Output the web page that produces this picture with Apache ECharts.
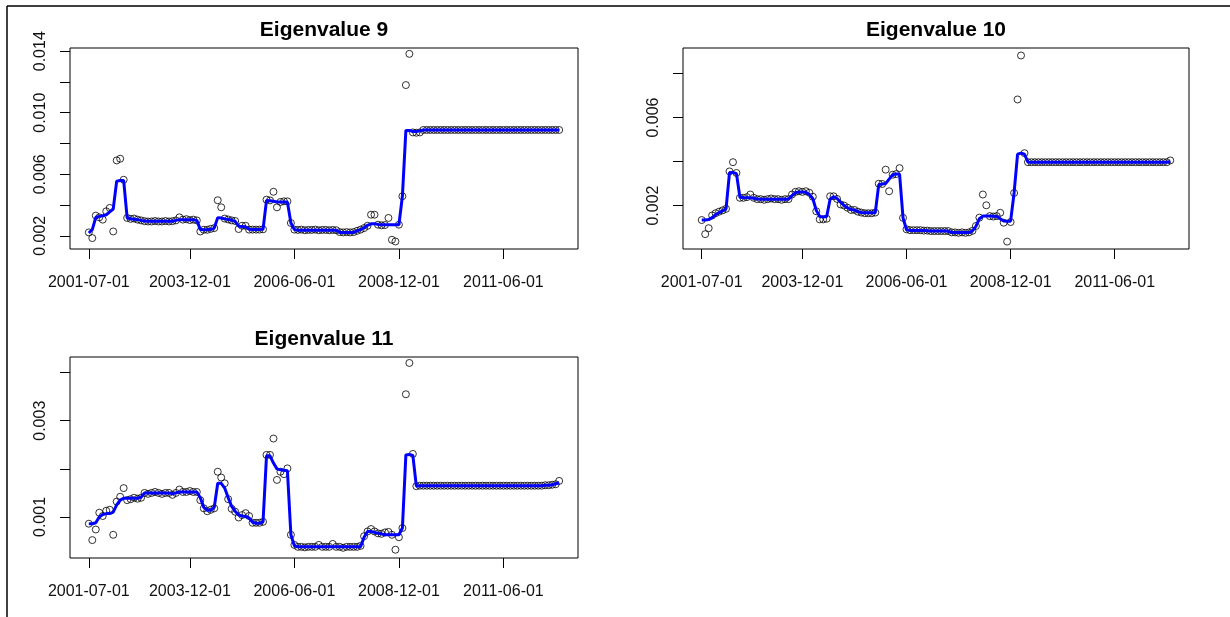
<!DOCTYPE html>
<html>
<head>
<meta charset="utf-8">
<script src="https://cdn.jsdelivr.net/npm/echarts@6/dist/echarts.min.js"></script>
<style>
  html, body { margin: 0; padding: 0; background: #fff; }
  #chart { width: 1230px; height: 617px; }
</style>
</head>
<body>
<div id="chart"></div>
<script>
// Monthly series, first observation 2001-07-01
const startYear = 2001;
const startMonth = 7;
const tickLabels = ["2001-07-01", "2003-12-01", "2006-06-01", "2008-12-01", "2011-06-01"];
const titles = ["Eigenvalue 9", "Eigenvalue 10", "Eigenvalue 11"];

// Eigenvalue 9: observed values and fitted curve
const ev9Obs = [
  0.00222,0.00185,0.00331,0.00320,0.00305,0.00359,0.00381,0.00228,0.00690,0.00701,
  0.00564,0.00316,0.00310,0.00312,0.00305,0.00300,0.00295,0.00293,0.00293,0.00296,
  0.00293,0.00293,0.00296,0.00293,0.00295,0.00300,0.00320,0.00305,0.00308,0.00302,
  0.00305,0.00300,0.00228,0.00239,0.00239,0.00245,0.00250,0.00431,0.00385,0.00312,
  0.00306,0.00300,0.00296,0.00244,0.00265,0.00265,0.00240,0.00240,0.00240,0.00240,
  0.00242,0.00435,0.00430,0.00486,0.00385,0.00420,0.00424,0.00424,0.00283,0.00240,
  0.00238,0.00240,0.00236,0.00238,0.00238,0.00240,0.00236,0.00238,0.00238,0.00236,
  0.00238,0.00236,0.00224,0.00222,0.00224,0.00222,0.00224,0.00232,0.00240,0.00250,
  0.00265,0.00337,0.00337,0.00272,0.00268,0.00270,0.00316,0.00174,0.00163,0.00272,
  0.00457,0.01180,0.01383,0.00872,0.00870,0.00872,0.00888,0.00888,0.00888,0.00888,
  0.00888,0.00888,0.00888,0.00888,0.00888,0.00888,0.00888,0.00888,0.00888,0.00888,
  0.00888,0.00888,0.00888,0.00888,0.00888,0.00888,0.00888,0.00888,0.00888,0.00888,
  0.00888,0.00888,0.00888,0.00888,0.00888,0.00888,0.00888,0.00888,0.00888,0.00888,
  0.00888,0.00888,0.00888,0.00888,0.00888,0.00888
];
const ev9Fit = [
  0.00218,0.00240,0.00320,0.00326,0.00330,0.00337,0.00355,0.00374,0.00555,0.00560,
  0.00560,0.00316,0.00311,0.00308,0.00305,0.00300,0.00296,0.00294,0.00294,0.00294,
  0.00294,0.00294,0.00294,0.00294,0.00295,0.00300,0.00305,0.00305,0.00305,0.00305,
  0.00305,0.00300,0.00240,0.00239,0.00239,0.00242,0.00250,0.00318,0.00316,0.00310,
  0.00306,0.00302,0.00294,0.00262,0.00260,0.00258,0.00242,0.00240,0.00240,0.00240,
  0.00242,0.00430,0.00428,0.00424,0.00420,0.00420,0.00420,0.00420,0.00283,0.00240,
  0.00236,0.00236,0.00236,0.00236,0.00236,0.00236,0.00236,0.00236,0.00236,0.00236,
  0.00236,0.00236,0.00222,0.00222,0.00222,0.00222,0.00222,0.00232,0.00240,0.00252,
  0.00268,0.00278,0.00278,0.00274,0.00272,0.00272,0.00272,0.00272,0.00272,0.00272,
  0.00457,0.00885,0.00885,0.00878,0.00878,0.00882,0.00888,0.00888,0.00888,0.00888,
  0.00888,0.00888,0.00888,0.00888,0.00888,0.00888,0.00888,0.00888,0.00888,0.00888,
  0.00888,0.00888,0.00888,0.00888,0.00888,0.00888,0.00888,0.00888,0.00888,0.00888,
  0.00888,0.00888,0.00888,0.00888,0.00888,0.00888,0.00888,0.00888,0.00888,0.00888,
  0.00888,0.00888,0.00888,0.00888,0.00888,0.00888
];

// Eigenvalue 10
const ev10Obs = [
  0.00134,0.00070,0.00097,0.00155,0.00165,0.00172,0.00178,0.00185,0.00355,0.00397,
  0.00348,0.00235,0.00235,0.00238,0.00250,0.00235,0.00229,0.00229,0.00226,0.00229,
  0.00232,0.00229,0.00229,0.00226,0.00229,0.00229,0.00250,0.00262,0.00265,0.00262,
  0.00265,0.00258,0.00240,0.00174,0.00137,0.00137,0.00140,0.00242,0.00242,0.00230,
  0.00205,0.00200,0.00190,0.00180,0.00180,0.00172,0.00168,0.00165,0.00165,0.00165,
  0.00168,0.00299,0.00298,0.00363,0.00265,0.00340,0.00343,0.00370,0.00144,0.00092,
  0.00088,0.00088,0.00088,0.00088,0.00086,0.00086,0.00084,0.00084,0.00084,0.00084,
  0.00084,0.00084,0.00078,0.00078,0.00076,0.00078,0.00076,0.00078,0.00085,0.00107,
  0.00145,0.00250,0.00201,0.00152,0.00150,0.00152,0.00167,0.00122,0.00036,0.00125,
  0.00257,0.00682,0.00882,0.00438,0.00397,0.00397,0.00397,0.00397,0.00397,0.00397,
  0.00397,0.00397,0.00397,0.00397,0.00397,0.00397,0.00397,0.00397,0.00397,0.00397,
  0.00397,0.00397,0.00397,0.00397,0.00397,0.00397,0.00397,0.00397,0.00397,0.00397,
  0.00397,0.00397,0.00397,0.00397,0.00397,0.00397,0.00397,0.00397,0.00397,0.00397,
  0.00397,0.00397,0.00397,0.00397,0.00397,0.00405
];
const ev10Fit = [
  0.00134,0.00134,0.00136,0.00145,0.00158,0.00168,0.00176,0.00185,0.00350,0.00350,
  0.00345,0.00238,0.00235,0.00235,0.00235,0.00233,0.00230,0.00229,0.00229,0.00229,
  0.00229,0.00229,0.00229,0.00229,0.00229,0.00229,0.00245,0.00258,0.00262,0.00262,
  0.00260,0.00250,0.00232,0.00178,0.00150,0.00148,0.00150,0.00230,0.00240,0.00232,
  0.00215,0.00200,0.00190,0.00182,0.00180,0.00172,0.00168,0.00167,0.00167,0.00167,
  0.00167,0.00295,0.00298,0.00300,0.00320,0.00340,0.00343,0.00343,0.00144,0.00090,
  0.00087,0.00087,0.00087,0.00087,0.00086,0.00085,0.00084,0.00084,0.00084,0.00084,
  0.00084,0.00084,0.00077,0.00077,0.00077,0.00077,0.00077,0.00077,0.00085,0.00105,
  0.00140,0.00152,0.00152,0.00152,0.00151,0.00150,0.00140,0.00130,0.00129,0.00129,
  0.00257,0.00433,0.00438,0.00433,0.00397,0.00397,0.00397,0.00397,0.00397,0.00397,
  0.00397,0.00397,0.00397,0.00397,0.00397,0.00397,0.00397,0.00397,0.00397,0.00397,
  0.00397,0.00397,0.00397,0.00397,0.00397,0.00397,0.00397,0.00397,0.00397,0.00397,
  0.00397,0.00397,0.00397,0.00397,0.00397,0.00397,0.00397,0.00397,0.00397,0.00397,
  0.00397,0.00397,0.00397,0.00397,0.00397,0.00400
];

// Eigenvalue 11
const ev11Obs = [
  0.00086,0.00052,0.00074,0.00109,0.00102,0.00113,0.00115,0.00063,0.00132,0.00142,
  0.00160,0.00135,0.00137,0.00140,0.00138,0.00140,0.00150,0.00148,0.00150,0.00152,
  0.00150,0.00148,0.00150,0.00150,0.00146,0.00150,0.00157,0.00152,0.00152,0.00154,
  0.00152,0.00152,0.00135,0.00118,0.00112,0.00115,0.00118,0.00194,0.00182,0.00170,
  0.00137,0.00117,0.00111,0.00099,0.00104,0.00108,0.00102,0.00088,0.00088,0.00088,
  0.00090,0.00229,0.00229,0.00263,0.00177,0.00194,0.00189,0.00201,0.00063,0.00042,
  0.00038,0.00038,0.00037,0.00038,0.00038,0.00038,0.00042,0.00038,0.00038,0.00038,
  0.00044,0.00038,0.00038,0.00036,0.00038,0.00038,0.00038,0.00038,0.00040,0.00060,
  0.00070,0.00075,0.00070,0.00066,0.00065,0.00068,0.00069,0.00063,0.00032,0.00058,
  0.00077,0.00355,0.00420,0.00231,0.00164,0.00165,0.00165,0.00165,0.00165,0.00165,
  0.00165,0.00165,0.00165,0.00165,0.00165,0.00165,0.00165,0.00165,0.00165,0.00165,
  0.00165,0.00165,0.00165,0.00165,0.00165,0.00165,0.00165,0.00165,0.00165,0.00165,
  0.00165,0.00165,0.00165,0.00165,0.00165,0.00165,0.00165,0.00165,0.00165,0.00165,
  0.00165,0.00166,0.00166,0.00167,0.00168,0.00175
];
const ev11Fit = [
  0.00086,0.00086,0.00088,0.00100,0.00105,0.00107,0.00107,0.00110,0.00125,0.00135,
  0.00139,0.00139,0.00139,0.00139,0.00139,0.00141,0.00150,0.00150,0.00150,0.00150,
  0.00150,0.00150,0.00150,0.00150,0.00148,0.00150,0.00152,0.00152,0.00152,0.00152,
  0.00152,0.00152,0.00140,0.00120,0.00114,0.00114,0.00120,0.00170,0.00170,0.00160,
  0.00140,0.00122,0.00112,0.00104,0.00102,0.00101,0.00098,0.00089,0.00087,0.00087,
  0.00090,0.00227,0.00227,0.00212,0.00200,0.00198,0.00197,0.00196,0.00063,0.00040,
  0.00038,0.00038,0.00038,0.00038,0.00038,0.00038,0.00038,0.00038,0.00038,0.00038,
  0.00038,0.00038,0.00038,0.00038,0.00038,0.00038,0.00038,0.00038,0.00038,0.00058,
  0.00070,0.00070,0.00068,0.00066,0.00065,0.00063,0.00063,0.00063,0.00063,0.00063,
  0.00077,0.00229,0.00230,0.00228,0.00164,0.00165,0.00165,0.00165,0.00165,0.00165,
  0.00165,0.00165,0.00165,0.00165,0.00165,0.00165,0.00165,0.00165,0.00165,0.00165,
  0.00165,0.00165,0.00165,0.00165,0.00165,0.00165,0.00165,0.00165,0.00165,0.00165,
  0.00165,0.00165,0.00165,0.00165,0.00165,0.00165,0.00165,0.00165,0.00165,0.00165,
  0.00165,0.00166,0.00166,0.00167,0.00169,0.00171
];

// y-axis ticks (all) and the subset that carries a label, per panel
const yTicks = [
  [0.002, 0.004, 0.006, 0.008, 0.010, 0.012, 0.014],
  [0.002, 0.004, 0.006, 0.008],
  [0.001, 0.002, 0.003, 0.004]
];
const yLabels = [
  [0.002, 0.006, 0.010, 0.014],
  [0.002, 0.006],
  [0.001, 0.003]
];
const yRanges = [
  [0.00114, 0.01421],
  [0.000024, 0.00916],
  [0.000148, 0.004324]
];

// month offset of a "YYYY-MM-DD" string from the first observation
function monthIndex(s) {
  const y = +s.slice(0, 4), m = +s.slice(5, 7);
  return (y - startYear) * 12 + (m - startMonth);
}
const tickPos = tickLabels.map(monthIndex);
const labelAt = {};
tickPos.forEach((p, k) => { labelAt[p] = tickLabels[k]; });

const nObs = ev9Obs.length;
const xMin = -0.04 * (nObs - 1), xMax = (nObs - 1) * 1.04;

const panels = [
  { obs: ev9Obs, fit: ev9Fit },
  { obs: ev10Obs, fit: ev10Fit },
  { obs: ev11Obs, fit: ev11Fit }
];

const FONT = "'Liberation Sans', Arial, sans-serif";
const grids = [
  { left: 70, top: 48, width: 508, height: 201 },
  { left: 683, top: 48, width: 506, height: 201 },
  { left: 70, top: 357, width: 508, height: 201 }
];

const option = {
  animation: false,
  backgroundColor: '#ffffff',
  title: titles.map((t, k) => ({
    text: t,
    left: grids[k].left + grids[k].width / 2,
    top: grids[k].top - 28,
    textAlign: 'center',
    padding: 0,
    textStyle: { fontFamily: FONT, fontSize: 21, fontWeight: 'bold', color: '#000' }
  })),
  grid: grids.map(g => Object.assign({ show: true, borderColor: '#000', borderWidth: 1, backgroundColor: 'transparent' }, g)),
  xAxis: grids.map((g, k) => ({
    type: 'value',
    gridIndex: k,
    position: 'bottom',
    min: xMin,
    max: xMax,
    axisLine: { show: false, onZero: false },
    splitLine: { show: false },
    axisTick: { show: true, inside: false, length: 10, customValues: tickPos, lineStyle: { color: '#000', width: 1 } },
    axisLabel: {
      customValues: tickPos,
      formatter: v => labelAt[Math.round(v)] || '',
      margin: 26,
      fontFamily: FONT, fontSize: 16, color: '#111'
    }
  })),
  yAxis: grids.map((g, k) => ({
    type: 'value',
    gridIndex: k,
    position: 'left',
    min: yRanges[k][0],
    max: yRanges[k][1],
    axisLine: { show: false, onZero: false },
    splitLine: { show: false },
    axisTick: { show: true, inside: false, length: 10, customValues: yTicks[k], lineStyle: { color: '#000', width: 1 } },
    axisLabel: {
      customValues: yLabels[k],
      rotate: 90,
      formatter: v => v.toFixed(3),
      margin: 21,
      fontFamily: FONT, fontSize: 16, color: '#111'
    }
  })),
  series: [],
  graphic: [
    { type: 'line', shape: { x1: 7, y1: 6, x2: 1230, y2: 6 }, style: { stroke: '#000', lineWidth: 1.5 } },
    { type: 'line', shape: { x1: 7, y1: 6, x2: 7, y2: 617 }, style: { stroke: '#000', lineWidth: 1.5 } }
  ]
};

panels.forEach((p, k) => {
  option.series.push({
    type: 'scatter',
    xAxisIndex: k, yAxisIndex: k,
    symbol: 'circle',
    symbolSize: 7,
    itemStyle: { color: 'rgba(255,255,255,0)', borderColor: '#000', borderWidth: 1 },
    data: p.obs.map((v, i) => [i, v]),
    z: 2
  });
  option.series.push({
    type: 'line',
    xAxisIndex: k, yAxisIndex: k,
    showSymbol: false,
    symbol: 'none',
    lineStyle: { color: '#0000ff', width: 3 },
    data: p.fit.map((v, i) => [i, v]),
    z: 3
  });
});

const chart = echarts.init(document.getElementById('chart'), null, { renderer: 'canvas' });
chart.setOption(option);
</script>
</body>
</html>
